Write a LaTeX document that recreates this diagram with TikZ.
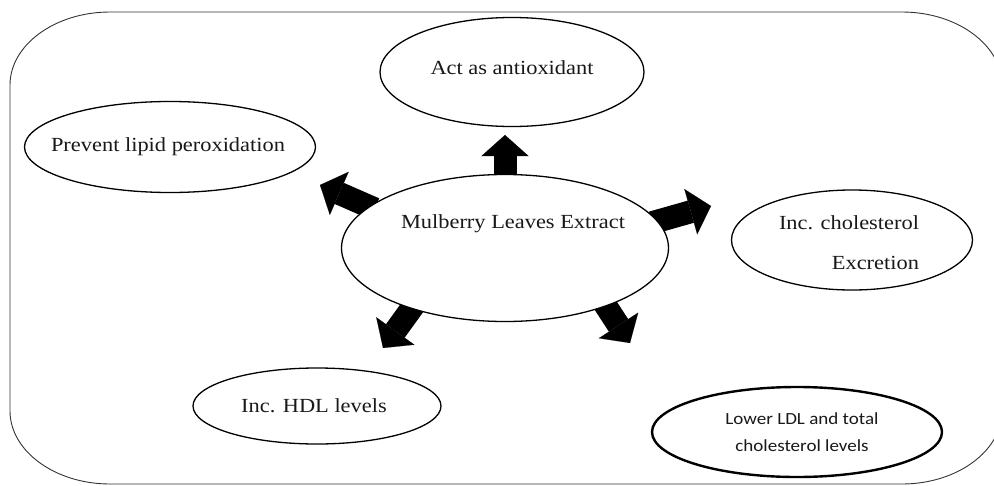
\documentclass[tikz,border=0pt]{standalone}
\usepackage{fontspec}
\setmainfont{Liberation Serif}[FakeStretch=1.12]
\newfontfamily\calibrifont{Carlito}[FakeStretch=1.12]
\usetikzlibrary{shapes.geometric,arrows.meta,backgrounds}

\tikzset{
  bubble/.style={draw, ellipse, line width=1.3pt, fill=white, inner sep=0pt},
  fatarrow/.style={line width=23pt, -{Triangle[length=21pt,width=47pt,line width=0.1pt]}, shorten <=-6pt},
}

\begin{document}
\begin{tikzpicture}[x=1pt,y=-1pt,font=\fontsize{20}{24}\selectfont]
  \tikzstyle{every label}=[inner sep=0pt, text=black!90]
  \useasboundingbox (0,0) rectangle (994,485);
  % outer frame
  \draw[line width=0.9pt, black!80] (110,12) -- (902,12) .. controls (957,12) and (1002,45) .. (1002,85)
    -- (1002,411) .. controls (1002,451) and (957,484) .. (902,484)
    -- (110,484) .. controls (55,484) and (10,451) .. (10,411)
    -- (10,85) .. controls (10,45) and (55,12) .. (110,12) -- cycle;

  \node[bubble, minimum width=327pt, minimum height=147pt,
        label={[xshift=8pt,yshift=24pt]center:Mulberry Leaves Extract}] (mle) at (505,248) {};
  \node[bubble, minimum width=264pt, minimum height=109pt,
        label={[yshift=4pt]center:Act as antioxidant}] (act) at (512,72) {};
  \node[bubble, minimum width=291pt, minimum height=91pt,
        label={[xshift=-2pt]center:Prevent lipid peroxidation}] (pld) at (170,147) {};
  \node[bubble, minimum width=241pt, minimum height=100pt,
        label={[align=right,xshift=-3pt,yshift=-3pt]center:{Inc. cholesterol\\[16pt]Excretion}}] (chol) at (852,240) {};
  \node[bubble, minimum width=248pt, minimum height=76pt,
        label={[xshift=-3pt]center:Inc. HDL levels}] (hdl) at (317,406) {};
  \node[bubble, line width=2.4pt, minimum width=290pt, minimum height=90pt,
        label={[align=center,xshift=5pt,font=\calibrifont\fontsize{17}{20}\selectfont]center:{Lower LDL and total\\[7pt]cholesterol levels}}] (ldl) at (797,432) {};

  \coordinate (tipA) at (505,135);
  \coordinate (tipPL) at (320,185);
  \coordinate (tipIC) at (711,206);
  \coordinate (tipHDL) at (383,348);
  \coordinate (tipLDL) at (630,343);

  \begin{scope}[on background layer]
    \path[fatarrow]
    (mle.north) edge (tipA)
    (mle.163) edge (tipPL)
    (mle.10)  edge (tipIC)
    (mle.213) edge (tipHDL)
    (mle.330) edge (tipLDL);
  \end{scope}
\end{tikzpicture}
\end{document}
